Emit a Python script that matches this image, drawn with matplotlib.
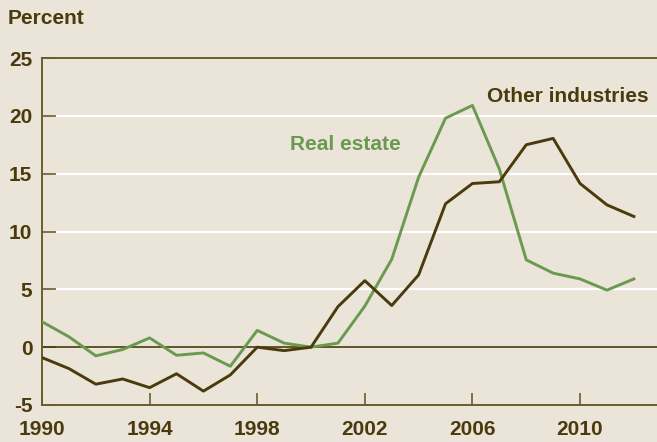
import matplotlib.pyplot as plt
import numpy as np

years = np.arange(1990, 2013)
real_estate = [2.2, 0.9, -0.75, -0.2, 0.8, -0.7, -0.5, -1.65, 1.45, 0.35, 0.0, 0.35,
               3.55, 7.6, 14.7, 19.8, 20.9, 15.4, 7.55, 6.4, 5.9, 4.93, 5.9]
other_ind = [-0.9, -1.85, -3.2, -2.75, -3.5, -2.3, -3.8, -2.4, 0.0, -0.3, 0.0, 3.5,
             5.75, 3.6, 6.25, 12.4, 14.15, 14.3, 17.5, 18.05, 14.15, 12.3, 11.3]
xticks = [1990, 1994, 1998, 2002, 2006, 2010]
yticks = [-5, 0, 5, 10, 15, 20, 25]

bg = '#ebe4d9'
brown = '#4a3a0c'
spine_c = '#6e5c30'
green = '#6a9a4f'

plt.rcParams['font.family'] = ['Liberation Sans', 'DejaVu Sans']
plt.rcParams['font.weight'] = 'bold'
plt.rcParams['axes.unicode_minus'] = False

fig = plt.figure(figsize=(6.57, 4.42), dpi=100, facecolor=bg)
ax = fig.add_axes([42 / 657, 37 / 442, 615 / 657, 347 / 442], facecolor=bg)

# white grid lines, starting just right of the y ticks
for y in [5, 10, 15, 20]:
    ax.axhline(y, xmin=10 / 615, color='white', lw=1.6, zorder=1)
ax.axhline(0, color=brown, lw=1.2, zorder=2)

ax.plot(years, real_estate, color=green, lw=2.1, zorder=3)
ax.plot(years, other_ind, color=brown, lw=2.1, zorder=4)

ax.set_xlim(1990, 2012.86)
ax.set_ylim(-5, 25)
ax.set_xticks(xticks)
ax.set_yticks(yticks)
ax.tick_params(axis='x', direction='in', length=9, width=1.2, color=spine_c,
               labelsize=15, labelcolor=brown, pad=11)
ax.tick_params(axis='y', direction='in', length=10, width=1.2, color=spine_c,
               labelsize=15, labelcolor=brown, pad=7)
for lab in ax.get_xticklabels() + ax.get_yticklabels():
    lab.set_fontweight('bold')

for s in ['left', 'bottom', 'top']:
    ax.spines[s].set_color(spine_c)
    ax.spines[s].set_linewidth(1.4)
ax.spines['right'].set_visible(False)

fig.text(8 / 657, 1 - 18 / 442, 'Percent', color=brown, fontsize=15,
         fontweight='bold', va='center', ha='left')
ax.text(1999.22, 17.5, 'Real estate', color=green, fontsize=15, fontweight='bold',
        va='center', ha='left')
ax.text(2006.55, 21.7, 'Other industries', color=brown, fontsize=15, fontweight='bold',
        va='center', ha='left')

fig.savefig('out.png', dpi=100, facecolor=bg)
